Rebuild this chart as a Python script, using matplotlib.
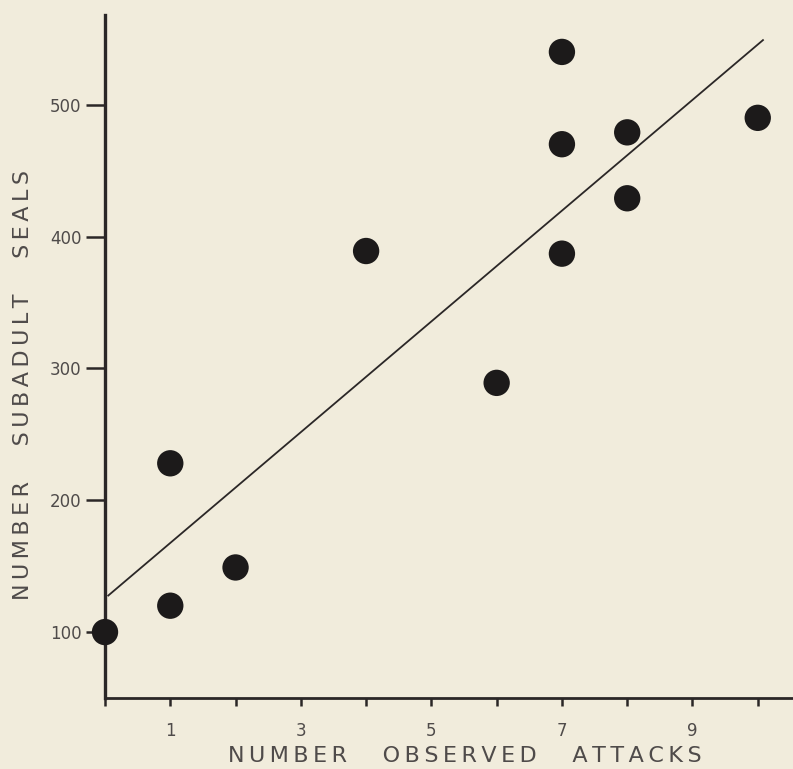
import matplotlib
matplotlib.use('Agg')
import matplotlib.pyplot as plt
import numpy as np

# number of observed attacks vs number of subadult seals
attacks = [0, 1, 1, 2, 4, 6, 7, 7, 7, 8, 8, 10]
seals = [100, 120, 228, 149, 389, 289, 540, 470, 387, 479, 429, 490]

fit_x = [0.05, 10.08]
fit_intercept = 125.6
fit_slope = 42.0

xticks = list(range(0, 11))
xticklabels = ['' if t % 2 == 0 else str(t) for t in xticks]
yticks = [100, 200, 300, 400, 500]

bg = '#f1ecdc'
ink = '#2b2727'
txt = '#4f4b4a'


def spaced(words):
    # letter-spaced caption, wide gaps between words
    return '     '.join('\u2009'.join(w) for w in words.split())


fig = plt.figure(figsize=(7.93, 7.69), dpi=100, facecolor=bg)
ax = fig.add_axes([105 / 793, 1 - 698 / 769, 688 / 793, 683 / 769])
ax.set_facecolor(bg)

fx = np.array(fit_x)
ax.plot(fx, fit_intercept + fit_slope * fx, color=ink, lw=1.3, zorder=2)
ax.scatter(attacks, seals, s=360, color='#1c1a1a', edgecolors='none',
           zorder=3, clip_on=False)

ax.set_xlim(0, 10.54)
ax.set_ylim(50, 568)

for s in ['top', 'right']:
    ax.spines[s].set_visible(False)
ax.spines['left'].set_linewidth(2.4)
ax.spines['bottom'].set_linewidth(2.0)
ax.spines['left'].set_color(ink)
ax.spines['bottom'].set_color(ink)

ax.set_xticks(xticks)
ax.set_xticklabels(xticklabels)
ax.set_yticks(yticks)
ax.tick_params(axis='x', direction='out', length=6, width=1.8, color=ink,
               labelsize=12, labelcolor=txt, pad=11)
ax.tick_params(axis='y', direction='out', length=14, width=1.8, color=ink,
               labelsize=12, labelcolor=txt, pad=3)

ax.set_xlabel(spaced('NUMBER OBSERVED ATTACKS'), fontsize=16, color=txt)
ax.xaxis.set_label_coords(0.523, -0.071)
ax.set_ylabel(spaced('NUMBER SUBADULT SEALS'), fontsize=16, color=txt)
ax.yaxis.set_label_coords(-0.105, 0.458)

plt.savefig('out.png', dpi=100, facecolor=bg)
plt.close()
